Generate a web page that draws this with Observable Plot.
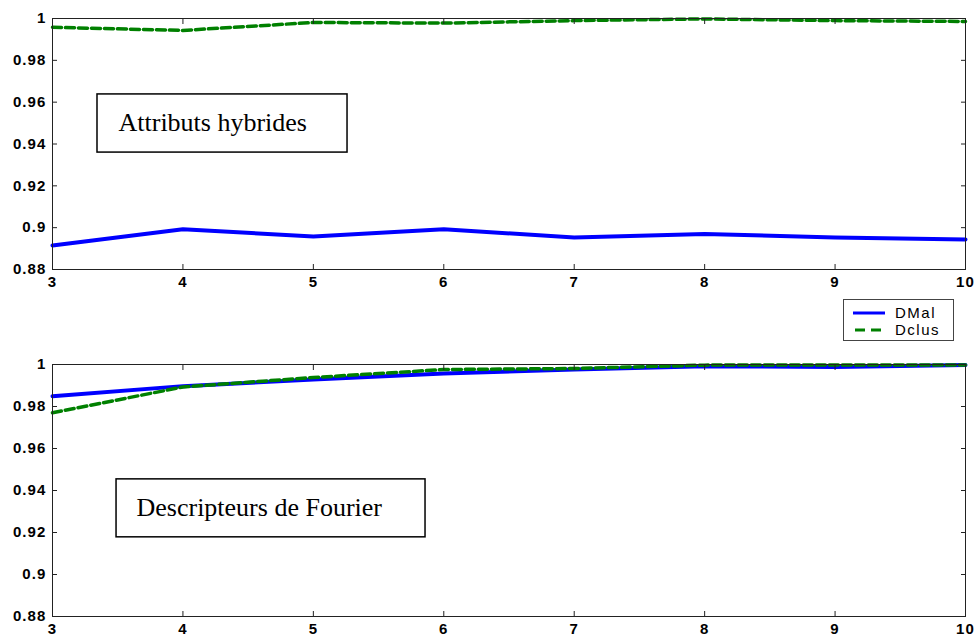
<!DOCTYPE html>
<html><head><meta charset="utf-8">
<script src="https://cdn.jsdelivr.net/npm/d3@7"></script>
<script src="https://cdn.jsdelivr.net/npm/@observablehq/plot@0.6"></script>
<style>
body{margin:0;background:#fff;}
#wrap{position:relative;width:978px;height:639px;overflow:hidden;background:#fff;}
#top{position:absolute;left:0;top:0;z-index:1;}
#bottom{position:absolute;left:0;top:340px;z-index:1;}
#legend{position:absolute;left:843px;top:299px;z-index:3;}
g[aria-label$="tick label"] text{letter-spacing:1.1px;font-weight:bold;}
</style></head><body>
<div id="wrap"><div id="top"></div><div id="bottom"></div><div id="legend"></div></div>
<script>
// ---- data ----
const xValues = [3, 4, 5, 6, 7, 8, 9, 10];
const hybridDMal  = [0.8915, 0.8992, 0.8958, 0.8992, 0.8953, 0.8970, 0.8953, 0.8944];
const hybridDclus = [0.9958, 0.9943, 0.9981, 0.9978, 0.9990, 0.9998, 0.9990, 0.9986];
const fourierDMal  = [0.9849, 0.9897, 0.9928, 0.9957, 0.9976, 0.9992, 0.9988, 0.9998];
const fourierDclus = [0.9770, 0.9893, 0.9938, 0.9976, 0.9981, 0.9997, 0.9998, 0.9998];
const seriesNames = ["DMal", "Dclus"];
const seriesColors = ["#0000ff", "#008000"];
const xTicks = [3, 4, 5, 6, 7, 8, 9, 10];
const xTickLabels = ["3", "4", "5", "6", "7", "8", "9", "10"];
const yTicks = [0.88, 0.9, 0.92, 0.94, 0.96, 0.98, 1];
const yTickLabels = ["0.88", "0.9", "0.92", "0.94", "0.96", "0.98", "1"];
const panelTitles = ["Attributs hybrides", "Descripteurs de Fourier"];
// annotation boxes in data coordinates [top panel, bottom panel]
const boxX1 = [3.345, 3.491];
const boxX2 = [5.262, 5.860];
const boxY1 = [0.9359, 0.9177];
const boxY2 = [0.9637, 0.9453];
const titleX = [3.506, 3.644];
const titleY = [0.9500, 0.9318];

function rows(ys, name) {
  return xValues.map((x, i) => ({x, y: ys[i], series: name}));
}

const tickFont = "'Liberation Sans', Arial, Helvetica, sans-serif";

function panel(dmal, dclus, k, dims) {
  return Plot.plot({
    width: 978,
    height: 299,
    marginLeft: 52,
    marginRight: 13,
    marginTop: dims.top,
    marginBottom: dims.bottom,
    style: {fontFamily: tickFont, fontSize: "15px", color: "#000", background: "transparent", overflow: "visible"},
    x: {domain: [3, 10], label: null},
    y: {domain: [0.88, 1], label: null},
    marks: [
      Plot.rect([k], {x1: i => boxX1[i], x2: i => boxX2[i], y1: i => boxY1[i], y2: i => boxY2[i],
        fill: "white", stroke: "black", strokeWidth: 1.5}),
      Plot.text([k], {x: i => titleX[i], y: i => titleY[i], text: i => panelTitles[i],
        textAnchor: "start", lineAnchor: "middle", fontFamily: "'Liberation Serif', 'Times New Roman', serif",
        fontSize: 26, fill: "black"}),
      Plot.line(rows(dmal, seriesNames[0]), {x: "x", y: "y", stroke: seriesColors[0], strokeWidth: 4}),
      Plot.line(rows(dclus, seriesNames[1]), {x: "x", y: "y", stroke: seriesColors[1], strokeWidth: 3.5, strokeDasharray: "9,4"}),
      Plot.frame({stroke: "#222", strokeWidth: 1}),
      // inward ticks on all four sides
      Plot.axisX({anchor: "bottom", ticks: xTicks, tickSize: -5, tickFormat: () => "", stroke: "#222", label: null}),
      Plot.axisX({anchor: "top", ticks: xTicks, tickSize: -5, tickFormat: () => "", stroke: "#222", label: null}),
      Plot.axisY({anchor: "left", ticks: yTicks, tickSize: -5, tickFormat: () => "", stroke: "#222", label: null}),
      Plot.axisY({anchor: "right", ticks: yTicks, tickSize: -5, tickFormat: () => "", stroke: "#222", label: null}),
      // labels
      Plot.axisX({anchor: "bottom", ticks: xTicks, tickSize: 0, tickPadding: 7, fontSize: 15, fill: "#000", label: null,
        tickFormat: d => xTickLabels[xTicks.indexOf(d)]}),
      Plot.axisY({anchor: "left", ticks: yTicks, tickSize: 0, tickPadding: 6, fontSize: 15, fill: "#000", label: null,
        tickFormat: d => yTickLabels[yTicks.indexOf(d)]})
    ]
  });
}

document.getElementById("top").append(panel(hybridDMal, hybridDclus, 0, {top: 18, bottom: 30}));
document.getElementById("bottom").append(panel(fourierDMal, fourierDclus, 1, {top: 24, bottom: 23}));

// legend
const lg = d3.select("#legend").append("svg").attr("width", 111).attr("height", 42);
lg.append("rect").attr("x", 0.5).attr("y", 0.5).attr("width", 110).attr("height", 41)
  .attr("fill", "white").attr("stroke", "#444").attr("stroke-width", 1);
seriesNames.forEach((name, i) => {
  const cy = 14 + i * 17;
  lg.append("line").attr("x1", i ? 12 : 10).attr("x2", i ? 40 : 42).attr("y1", cy).attr("y2", cy)
    .attr("stroke", seriesColors[i]).attr("stroke-width", 3)
    .attr("stroke-dasharray", i ? "10,6" : null);
  lg.append("text").attr("x", 52).attr("y", cy).attr("dy", "0.35em")
    .attr("font-family", tickFont).attr("font-size", 15).attr("letter-spacing", "1.5px")
    .attr("fill", "#000").text(name);
});
</script>
</body></html>
